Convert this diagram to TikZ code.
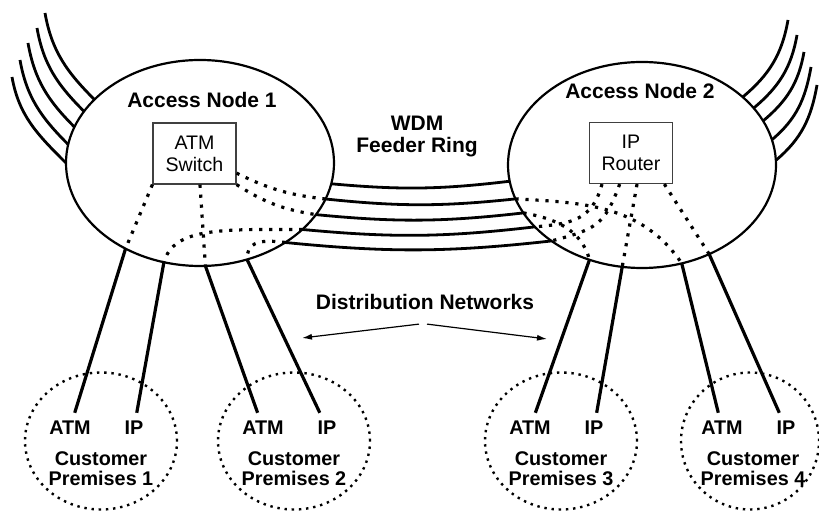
\documentclass[tikz,border=0pt]{standalone}
\usepackage{fontspec}
\setmainfont{Liberation Sans}
\usetikzlibrary{arrows.meta, shapes.geometric}

\begin{document}
\begin{tikzpicture}[x=0.5pt, y=-0.5pt,
    access/.style={ellipse, draw, line width=1.1pt, minimum width=134pt, minimum height=103pt, inner sep=0pt, outer sep=0pt},
    premises/.style={ellipse, draw, line width=1.2pt, dash pattern=on 1.2pt off 2.4pt, minimum height=68.5pt, inner sep=0pt, outer sep=0pt},
    device/.style={rectangle, draw=black!75, line width=0.6pt, minimum width=41.5pt, minimum height=30.5pt, inner sep=0pt, align=center, font=\fontsize{9.8}{11}\selectfont},
    bigtext/.style={font=\fontsize{10.5}{11}\selectfont\bfseries, align=center, inner sep=1pt},
    smalltext/.style={font=\fontsize{9.9}{10}\selectfont\bfseries, align=center, inner sep=1pt},
    cplabel/.style={smalltext, inner sep=4pt},
    fiber/.style={line width=1.4pt},
    drop/.style={line width=1.6pt},
    lightpath/.style={line width=1.6pt, dash pattern=on 1.6pt off 3.4pt},
    pointer/.style={line width=0.6pt, -{Latex[length=5pt, width=3pt]}}]
    \useasboundingbox (0,0) rectangle (819,512);

    % Access nodes
    \node[access] (an1) at (200,163) {};
    \node[access] (an2) at (642,165) {};
    \node[bigtext] (an1txt) at (202,100) {Access Node 1};
    \node[bigtext] (an2txt) at (640,91) {Access Node 2};
    \node[device] (sw) at (194.5,153.5) {ATM\\Switch};
    \node[device] (rt) at (631,153) {IP\\Router};

    % WDM feeder ring
    \node[bigtext] (wdm) at (417,137) {WDM\\Feeder Ring};
    \foreach \a/\b in {-9/-173, -16/-165, -24/-158, -33/-150, -43/-140}
    \draw[fiber] (an1.\a) to[bend right=6] (an2.\b);

    % Ring fibers leaving to the outside
    \foreach \i/\x/\y/\a in {1/12/77/180, 2/20/60/172, 3/28/43/164, 4/37/28/156, 5/45/13/149} {
        \coordinate (lf\i) at (\x,\y);
        \draw[fiber] (lf\i) to[out=-80, in=135] (an1.\a);
    }
    \foreach \i/\x/\y/\a in {1/817/85/2, 2/811/67/11, 3/804/52/20, 4/797/35/27, 5/788/20/34} {
        \coordinate (rf\i) at (\x,\y);
        \draw[fiber] (rf\i) to[out=-100, in=40] (an2.\a);
    }

    % Light paths inside Access Node 1
    \draw[lightpath] (sw.south west) -- (an1.-131);
    \draw[lightpath] (sw.-80) -- (an1.-87);
    \draw[lightpath] (sw.-25) to[bend right=10] (an1.-16);
    \draw[lightpath] (sw.south east) to[bend right=12] (an1.-24);
    \draw[lightpath] (an1.-33) .. controls +(-80,0) and +(10,-35) .. (an1.-110);
    \draw[lightpath] (an1.-43) .. controls +(-30,-4) and +(0,-15) .. (an1.-64);

    % Light paths inside Access Node 2
    \draw[lightpath] (an2.-165) to[out=-3, in=124] (an2.-68);
    \draw[lightpath] (an2.-158) to[out=-10, in=105] (an2.-119);
    \draw[lightpath] (rt.-133) to[out=-105, in=5, looseness=1.2] (an2.-150);
    \draw[lightpath] (rt.-110) to[out=-110, in=15, looseness=1.3] (an2.-140);
    \draw[lightpath] (rt.-79) -- (an2.-101);
    \draw[lightpath] (rt.-43) -- (an2.-53);

    % Customer premises
    \foreach \i/\x/\w in {1/101/76, 2/294/76, 3/561/76, 4/750/69}
    \node[premises, minimum width=\w pt] (cp\i) at (\x,441) {};
    \foreach \i/\x in {1/101, 2/294, 3/561, 4/753} {
        \node[cplabel] (atm\i) at (\x-31,428) {ATM};
        \node[cplabel] (ip\i) at (\x+33,428) {IP};
        \node[smalltext] (cpt\i) at (\x,469) {Customer\\Premises \i};
    }

    % Distribution networks
    \draw[drop] (an1.-131) -- (atm1);
    \draw[drop] (an1.-110) -- (ip1);
    \draw[drop] (an1.-87) -- (atm2);
    \draw[drop] (an1.-64) -- (ip2);
    \draw[drop] (an2.-119) -- (atm3);
    \draw[drop] (an2.-101) -- (ip3);
    \draw[drop] (an2.-68) -- (atm4);
    \draw[drop] (an2.-53) -- (ip4);

    \node[bigtext] (dist) at (425,302) {Distribution Networks};
    \coordinate (dl) at (302,338);
    \coordinate (dr) at (547,339);
    \draw[pointer] ([xshift=-3pt, yshift=-6pt]dist.south) -- (dl);
    \draw[pointer] ([xshift=1pt, yshift=-6pt]dist.south) -- (dr);
\end{tikzpicture}
\end{document}
